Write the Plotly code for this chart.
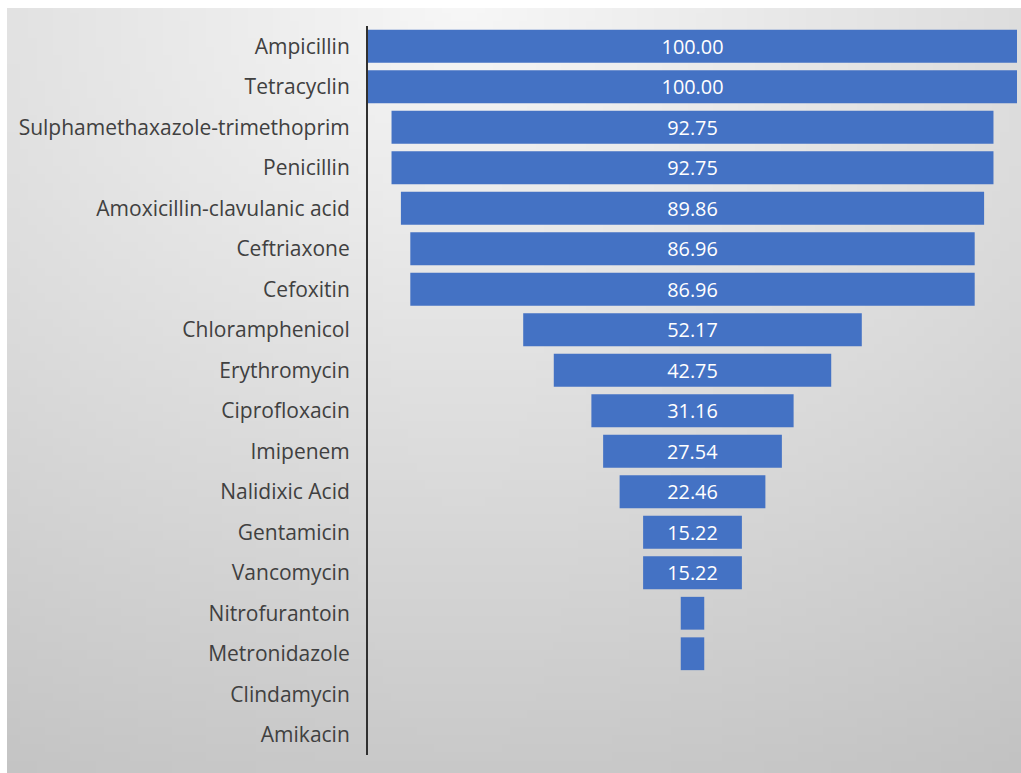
import base64
import struct
import zlib

import plotly.graph_objects as go

categories = [
    "Ampicillin", "Tetracyclin", "Sulphamethaxazole-trimethoprim", "Penicillin",
    "Amoxicillin-clavulanic acid", "Ceftriaxone", "Cefoxitin", "Chloramphenicol",
    "Erythromycin", "Ciprofloxacin", "Imipenem", "Nalidixic Acid", "Gentamicin",
    "Vancomycin", "Nitrofurantoin", "Metronidazole", "Clindamycin", "Amikacin",
]
values = [100.00, 100.00, 92.75, 92.75, 89.86, 86.96, 86.96, 52.17, 42.75,
          31.16, 27.54, 22.46, 15.22, 15.22, 3.62, 3.62, 0.0, 0.0]
labels = [f"{v:.2f}" if v >= 10 else "" for v in values]


def gradient_png(w=120, h=90):
    rows = b""
    for j in range(h):
        row = bytearray([0])
        fy = j / (h - 1)
        for i in range(w):
            fx = i / (w - 1)
            d = ((fx - 0.45) ** 2 + (fy * 1.0) ** 2) ** 0.5
            c = int(max(0, min(255, 247 - 46 * d)))
            row.append(c)
        rows += bytes(row)

    def chunk(tag, data):
        c = struct.pack(">I", len(data)) + tag + data
        return c + struct.pack(">I", zlib.crc32(tag + data) & 0xFFFFFFFF)

    png = b"\x89PNG\r\n\x1a\n"
    png += chunk(b"IHDR", struct.pack(">IIBBBBB", w, h, 8, 0, 0, 0, 0))
    png += chunk(b"IDAT", zlib.compress(rows, 9))
    png += chunk(b"IEND", b"")
    return "data:image/png;base64," + base64.b64encode(png).decode()


W, H = 1021, 773
L, R, T, B = 368, 1017, 26, 755
pw, ph = R - L, B - T

fig = go.Figure(go.Funnel(
    y=categories,
    x=values,
    text=labels,
    textinfo="text",
    textposition="inside",
    insidetextanchor="middle",
    textfont=dict(color="white", size=20, family="Open Sans"),
    marker=dict(color="#4472C4", line=dict(width=0)),
    connector=dict(visible=False),
    hoverinfo="y+x",
))

fig.update_layout(
    width=W, height=H,
    margin=dict(l=L, r=W - R, t=T, b=H - B),
    paper_bgcolor="white",
    plot_bgcolor="rgba(0,0,0,0)",
    funnelgap=0.19,
    showlegend=False,
    font=dict(family="Open Sans", color="#404040", size=21),
    xaxis=dict(visible=False, range=[-50, 50], fixedrange=True),
    yaxis=dict(
        showline=True, linecolor="#303030", linewidth=2,
        showgrid=False, zeroline=False, ticks="",
        ticklabelstandoff=12,
        tickfont=dict(size=21, color="#404040", family="Open Sans"),
    ),
    images=[dict(
        source=gradient_png(),
        xref="paper", yref="paper",
        x=(7 - L) / pw, y=(B - 8) / ph,
        sizex=(W - 7) / pw, sizey=(H - 8) / ph,
        xanchor="left", yanchor="top",
        sizing="stretch", layer="below",
    )],
)

fig.write_html("out.html")
